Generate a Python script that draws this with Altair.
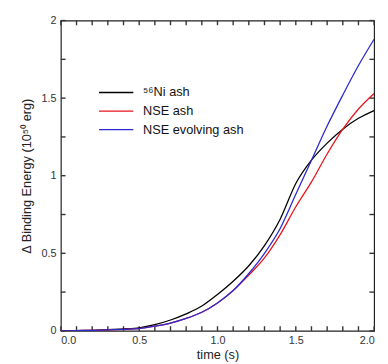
import altair as alt
import pandas as pd

t = [0.0, 0.1, 0.2, 0.3, 0.4, 0.5, 0.6, 0.7, 0.8, 0.9, 1.0, 1.1, 1.2, 1.3, 1.4, 1.5, 1.6, 1.7, 1.8, 1.9, 2.0]
ni_ash = [0.0, 0.002, 0.004, 0.008, 0.013, 0.02, 0.04, 0.07, 0.11, 0.16, 0.235, 0.32, 0.42, 0.55, 0.72, 0.95, 1.1, 1.21, 1.30, 1.37, 1.42]
nse_ash = [0.0, 0.001, 0.003, 0.006, 0.01, 0.015, 0.03, 0.05, 0.08, 0.12, 0.18, 0.26, 0.36, 0.47, 0.62, 0.80, 0.96, 1.14, 1.30, 1.43, 1.53]
nse_evol = [0.0, 0.001, 0.003, 0.006, 0.01, 0.015, 0.03, 0.05, 0.08, 0.12, 0.18, 0.26, 0.37, 0.50, 0.66, 0.88, 1.10, 1.32, 1.52, 1.71, 1.88]

series = ["⁵⁶Ni ash", "NSE ash", "NSE evolving ash"]
colors = ["#000000", "#e8141c", "#2a2ad0"]

x_minor = [i / 10 for i in range(21)]
y_minor = [i / 4 for i in range(9)]
tick_len = 0.03

rows = []
for name, vals in zip(series, [ni_ash, nse_ash, nse_evol]):
    for tt, v in zip(t, vals):
        rows.append({"t": tt, "E": v, "s": name})
df = pd.DataFrame(rows)

xs = alt.Scale(domain=[0, 2], nice=False)
ys = alt.Scale(domain=[0, 2], nice=False)
font = "Liberation Sans"

lines = alt.Chart(df).mark_line(strokeWidth=1.3, interpolate="monotone", clip=True).encode(
    x=alt.X("t:Q", scale=xs, title="time (s)",
            axis=alt.Axis(values=[0, 0.5, 1.0, 1.5, 2.0], format=".1f", ticks=False, domain=False,
                          grid=False, labelPadding=4, titlePadding=3)),
    y=alt.Y("E:Q", scale=ys, title="Δ Binding Energy (10⁵⁰ erg)",
            axis=alt.Axis(values=[0, 0.5, 1, 1.5, 2], format="~g", ticks=False, domain=False,
                          grid=False, labelPadding=5, titlePadding=8)),
    color=alt.Color("s:N", scale=alt.Scale(domain=series, range=colors), sort=series,
                    legend=alt.Legend(title=None, orient="none", legendX=50, legendY=67,
                                      symbolType="M-3,0H3", symbolSize=136, symbolStrokeWidth=1.3,
                                      labelFontSize=13, labelFont=font, labelColor="#111",
                                      rowPadding=5, labelOffset=21)),
)

xrows = []
for v in x_minor:
    xrows.append({"p": v, "a": 0.0, "b": tick_len})
    xrows.append({"p": v, "a": 2.0, "b": 2.0 - tick_len})
yrows = []
for v in y_minor:
    yrows.append({"p": v, "a": 0.0, "b": tick_len})
    yrows.append({"p": v, "a": 2.0, "b": 2.0 - tick_len})
xt = pd.DataFrame(xrows)
yt = pd.DataFrame(yrows)

xticks = alt.Chart(xt).mark_rule(color="#333", strokeWidth=1.4).encode(
    x=alt.X("p:Q", scale=xs), y=alt.Y("a:Q", scale=ys), y2="b:Q")
yticks = alt.Chart(yt).mark_rule(color="#333", strokeWidth=1.4).encode(
    y=alt.Y("p:Q", scale=ys), x=alt.X("a:Q", scale=xs), x2="b:Q")

chart = alt.layer(xticks, yticks, lines).properties(
    width=320, height=317,
    autosize=alt.AutoSizeParams(type="none"),
    padding={"left": 54, "top": 9, "right": 6, "bottom": 30},
).configure_view(stroke="#222", strokeWidth=1.2).configure_axis(
    labelFont=font, titleFont=font, labelFontSize=11, titleFontSize=13,
    labelColor="#333", titleColor="#222", titleFontWeight="normal"
)

chart.save("out.html", embed_options={"renderer": "svg", "actions": False})
